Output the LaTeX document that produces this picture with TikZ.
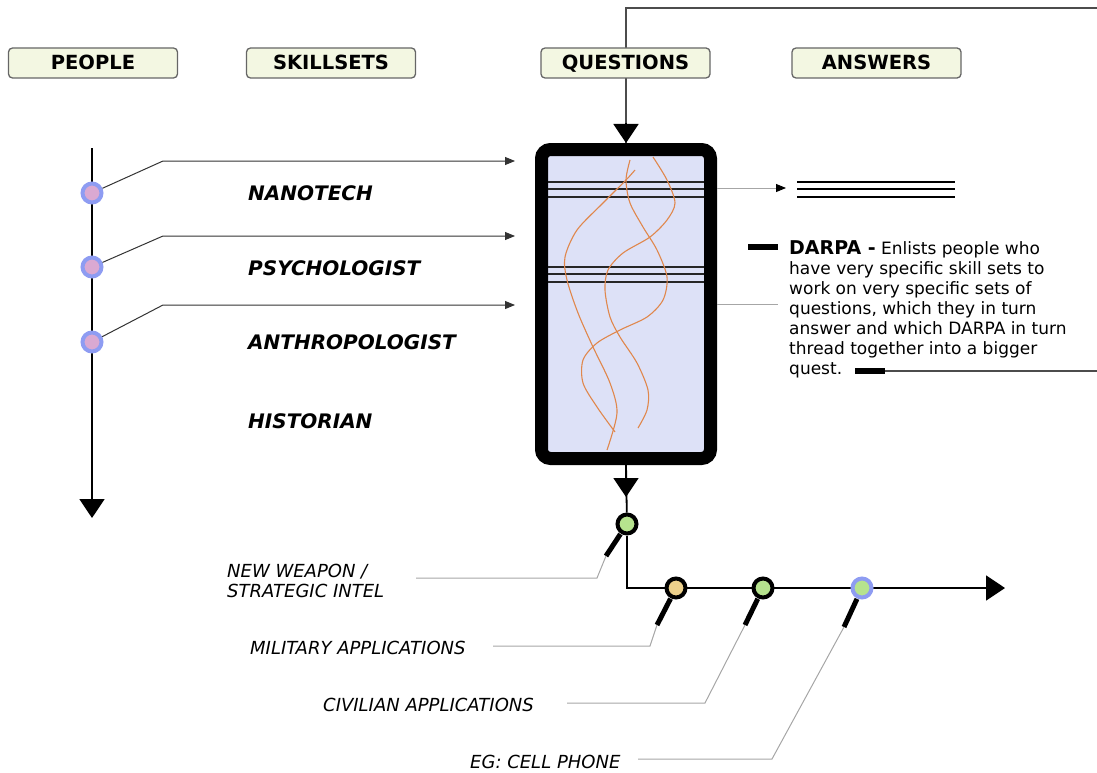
\documentclass[tikz,border=0pt]{standalone}
\usepackage{fontspec}
\setmainfont{DejaVu Sans}
\usetikzlibrary{arrows.meta}
\definecolor{hdrfill}{HTML}{F3F7E2}
\definecolor{boxfill}{HTML}{DDE1F7}
\definecolor{threadcol}{HTML}{E0874C}
\definecolor{pinkdot}{HTML}{DAA9D2}
\definecolor{bluering}{HTML}{8E9CF2}
\definecolor{greendot}{HTML}{B6E38E}
\definecolor{tandot}{HTML}{ECD08B}
\definecolor{leader}{HTML}{A6A6A6}
\tikzset{
  header/.style={draw=black!60, fill=hdrfill, line width=1.3pt, rounded corners=4pt,
    minimum width=169pt, minimum height=30pt, inner sep=0pt,
    text height=14pt, text depth=0pt, font=\fontsize{19.5}{22}\selectfont\bfseries},
  skill/.style={anchor=base west, inner sep=0pt, font=\fontsize{20}{22}\selectfont\bfseries\itshape},
  outlabel/.style={anchor=base west, inner sep=0pt, align=left, font=\fontsize{18}{20}\selectfont\itshape},
  note/.style={anchor=base west, inner sep=0pt, align=left, font=\fontsize{17}{20}\selectfont},
  person/.style={circle, draw=bluering, fill=pinkdot, line width=4pt, minimum size=19pt, inner sep=0pt},
  result/.style={circle, draw=black, line width=4pt, minimum size=19pt, inner sep=0pt},
  bigtip/.style={-{Triangle[length=19pt,width=25pt]}},
  main/.style={line width=1.8pt},
  feed/.style={line width=1pt, black!80, -{Triangle[length=10pt,width=8pt]}},
  thread/.style={threadcol, line width=1.1pt},
  handle/.style={line width=5pt, shorten <=12pt},
  leadline/.style={leader, line width=1pt},
  bar/.style={line width=5.5pt},
}
\begin{document}
\begin{tikzpicture}[x=1pt, y=-1pt]
\useasboundingbox (0,0) rectangle (1097,773);

\node[draw, line width=13pt, fill=boxfill, rounded corners=9pt,
  minimum width=169pt, minimum height=309pt] (qbox) at (626,304) {};
\foreach \y in {182,189,197,267,274,282}
  \draw[line width=2.3pt, black!85] (548,\y) -- (704,\y);
\draw[thread] plot[smooth] coordinates {(635,170) (626,180) (603,203) (577,230) (565,257)
  (567,280) (578,313) (593,347) (610,383) (617,413) (607,450)};
\draw[thread] plot[smooth] coordinates {(630,160) (626,180) (630,203) (643,227) (657,250)
  (667,277) (663,300) (647,317) (620,330) (597,343) (583,360) (583,383) (597,407) (615,432)};
\draw[thread] plot[smooth] coordinates {(653,157) (667,180) (675,203) (667,220) (650,237)
  (623,253) (608,270) (605,290) (610,317) (620,337) (637,363) (648,390) (647,410) (638,428)};

\coordinate (topin) at (1097,8);
\draw[main, black!70] (topin) -- (qbox.north |- topin) -- (qbox.north);
\draw[main, bigtip] ([yshift=20pt]qbox.north) -- (qbox.north);

\node[header] (people) at (93,63) {PEOPLE};
\node[header] (skills) at (331,63) {SKILLSETS};
\node[header] (quest) at (625.5,63) {QUESTIONS};
\node[header] (answers) at (876.5,63) {ANSWERS};

\coordinate (ptop) at (92,148);
\coordinate (pend) at (92,518);
\draw[main, bigtip] (ptop) -- (pend);
\foreach \n/\y/\ly in {p1/193/161, p2/267/236, p3/342/305} {
  \node[person] (\n) at (92,\y) {};
  \coordinate (\n-in) at (515,\ly);
  \draw[feed] (\n) -- (163,\ly) -- (\n-in);
}
\foreach \t/\y in {NANOTECH/200, PSYCHOLOGIST/275, ANTHROPOLOGIST/349, HISTORIAN/428}
  \node[skill] (\t) at (248,\y) {\t};

\coordinate (ansin) at (786,188);
\draw[line width=1pt, leader, -{Triangle[length=10pt,width=8pt,black]}] (qbox.east |- ansin) -- (ansin);
\foreach \y in {182,189,197}
  \draw[line width=2.3pt] (797,\y) -- (955,\y);

\coordinate (dnote) at (778,304);
\draw[leadline] (qbox.east |- dnote) -- (dnote);
\draw[bar] (748,247) -- (778,247);
\node[note] (darpa) at (789,374.5) {{\fontsize{19}{20}\selectfont\bfseries DARPA -} Enlists people who\\
  have very specific skill sets to\\ work on very specific sets of\\
  questions, which they in turn\\ answer and which DARPA in turn\\
  thread together into a bigger\\ quest.};
\coordinate (qend) at (1097,371);
\draw[bar] (855,371) -- (885,371);
\draw[line width=1.2pt, black!70] (885,371) -- (qend);

\node[result, fill=greendot] (out) at (627,524) {};
\draw[main] (qbox.south) -- (out);
\draw[main, bigtip] (qbox.south) -- ([yshift=-32pt]qbox.south);
\coordinate (aend) at (1005,588);
\draw[main, bigtip] (out) |- (aend);
\node[result, fill=tandot] (mil) at (676,588) {};
\node[result, fill=greendot] (civ) at (763,588) {};
\node[result, fill=greendot, draw=bluering] (eg) at (862,588) {};

\draw[handle] (out.center) -- ++(-21,32) coordinate (outH);
\draw[handle] (mil.center) -- ++(-19,37) coordinate (milH);
\draw[handle] (civ.center) -- ++(-18,37) coordinate (civH);
\draw[handle] (eg.center) -- ++(-18,39) coordinate (egH);

\node[outlabel] (weapon) at (227,597.5) {NEW WEAPON /\\STRATEGIC INTEL};
\node[outlabel] (military) at (250,654.5) {MILITARY APPLICATIONS};
\node[outlabel] (civilian) at (323,711.5) {CIVILIAN APPLICATIONS};
\node[outlabel] (phone) at (470,768.5) {EG: CELL PHONE};

\draw[leadline] (outH) -- ++(-9,22) -- (416,578);
\draw[leadline] (milH) -- ++(-7,21) -- (493,646);
\draw[leadline] (civH) -- ++(-40,78) -- (567,703);
\draw[leadline] (egH) -- ++(-72,132) -- (638,759);
\end{tikzpicture}
\end{document}
